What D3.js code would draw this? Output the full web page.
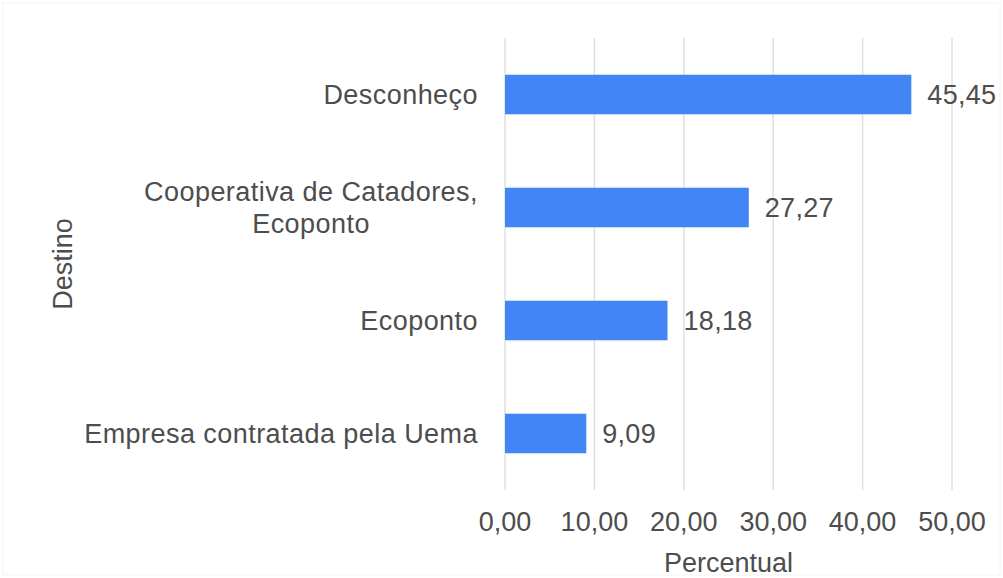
<!DOCTYPE html>
<html>
<head>
<meta charset="utf-8">
<script src="https://cdn.jsdelivr.net/npm/d3@7"></script>
<style>
  body { margin: 0; background: #fff; }
  text { font-family: "Liberation Sans", Arial, sans-serif; fill: #4d4d4d; }
</style>
</head>
<body>
<div id="chart"></div>
<script>
// Data
const categories = [["Desconheço"], ["Cooperativa de Catadores,", "Ecoponto"], ["Ecoponto"], ["Empresa contratada pela Uema"]];
const values = [45.45, 27.27, 18.18, 9.09];
const xTicks = [0, 10, 20, 30, 40, 50];

const w = 1003, h = 578;
const fmt = v => d3.format(".2f")(v).replace(".", ",");

const svg = d3.select("#chart").append("svg")
    .attr("width", w)
    .attr("height", h);

// faint frame around the picture
svg.append("rect")
    .attr("x", 3).attr("y", 3)
    .attr("width", w - 6).attr("height", h - 6)
    .attr("fill", "none")
    .attr("stroke", "#f4f4f4")

const x = d3.scaleLinear().domain([0, 50]).range([505, 952]);
const y = d3.scaleBand()
    .domain(d3.range(categories.length))
    .range([38, 490])
    .paddingInner(0.65)
    .paddingOuter(0.325);

// gridlines
svg.append("g")
    .selectAll("line")
    .data(xTicks)
    .join("line")
        .attr("x1", d => x(d)).attr("x2", d => x(d))
        .attr("y1", 38).attr("y2", 490)
        .attr("stroke", "#e0e0e0")
        .attr("stroke-width", 1.5)

// bars
svg.append("g")
    .selectAll("rect")
    .data(values)
    .join("rect")
        .attr("x", x(0))
        .attr("y", (d, i) => y(i))
        .attr("width", d => x(d) - x(0))
        .attr("height", y.bandwidth())
        .attr("fill", "#4285f4")

// value labels
svg.append("g")
    .selectAll("text")
    .data(values)
    .join("text")
        .attr("x", d => x(d) + 16)
        .attr("y", (d, i) => y(i) + y.bandwidth() / 2)
        .attr("dy", "0.36em")
        .attr("font-size", 27)
        .attr("letter-spacing", 0.3)
        .text(d => fmt(d))

// category labels (multi-line ones are centred in their block)
const lineH = 32;
const catG = svg.append("g");
categories.forEach((lines, i) => {
    const cy = y(i) + y.bandwidth() / 2;
    const t = catG.append("text")
        .attr("font-size", 27)
        .attr("letter-spacing", 0.45)
        .attr("text-anchor", "end")
        .attr("x", 478)
        .attr("y", cy - (lines.length - 1) * lineH / 2);
    lines.forEach((l, j) => {
        t.append("tspan")
            .attr("x", 478)
            .attr("dy", j === 0 ? "0.36em" : lineH)
            .text(l);
    });
    if (lines.length > 1) {
        // centre lines on each other, keep block right edge
        const bw = t.node().getBBox().width;
        t.attr("text-anchor", "middle");
        t.selectAll("tspan").attr("x", 478 - bw / 2);
    }
});

// x tick labels
svg.append("g")
    .selectAll("text")
    .data(xTicks)
    .join("text")
        .attr("x", d => x(d))
        .attr("y", 521)
        .attr("dy", "0.36em")
        .attr("text-anchor", "middle")
        .attr("font-size", 27)
        .text(d => fmt(d))

// axis titles
svg.append("text")
    .attr("x", x(25))
    .attr("y", 562)
    .attr("dy", "0.36em")
    .attr("text-anchor", "middle")
    .attr("font-size", 27)
    .text("Percentual")

svg.append("text")
    .attr("transform", "translate(62,264) rotate(-90)")
    .attr("dy", "0.36em")
    .attr("text-anchor", "middle")
    .attr("font-size", 27)
    .text("Destino")
</script>
</body>
</html>
